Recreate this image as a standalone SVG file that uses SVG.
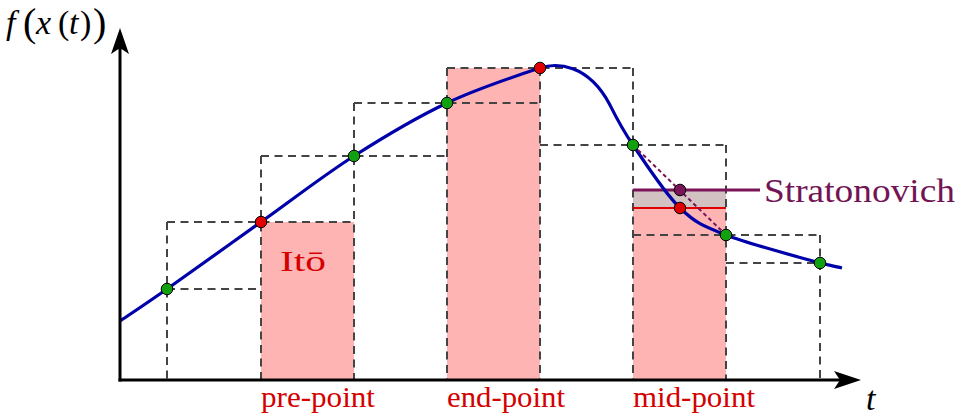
<svg xmlns="http://www.w3.org/2000/svg" width="959" height="418" viewBox="0 0 959 418">
<defs>
<style>
.dash{fill:none;stroke:#444;stroke-width:2;stroke-dasharray:8 5.5}
.pink{fill:#ffb4b4}
.dot{stroke:#000;stroke-width:1}
.g{fill:#10a010}
.r{fill:#e00000}
.p{fill:#7a1458}
.lbl{font-family:"Liberation Serif","DejaVu Serif",serif;font-size:30px;fill:#d40000}
.math{font-family:"Liberation Serif","DejaVu Serif",serif;fill:#000;font-size:34px}
.it{font-style:italic}
</style>
</defs>
<g id="bars">
<rect class="pink" x="261" y="222" width="93" height="158"/>
<rect class="pink" x="447" y="68" width="93" height="312"/>
<rect class="pink" x="633" y="208" width="93" height="172"/>
<rect x="633" y="190" width="93" height="18" fill="#d3c2c2"/>
</g>
<g id="grid">
<path class="dash" d="M167,222V380 M261,156V380 M354,103V380 M447,68V380 M540,68V380 M633,68V380 M726,145V380 M820,235V380"/>
<path class="dash" d="M167,289H261 M167,222H354 M261,156H447 M354,103H540 M447,68H633 M540,145H726 M633,235H820 M726,263H820"/>
</g>
<g id="connectors">
<line x1="633" y1="208" x2="726" y2="208" stroke="#e00000" stroke-width="2"/>
<line x1="633" y1="190" x2="760" y2="190" stroke="#7a1458" stroke-width="3"/>
<path d="M120,321 C127.8,315.7 143.5,305.5 167,289 C190.5,272.5 229.8,244.2 261,222 C292.2,199.8 323,175.8 354,156 C385,136.2 416,117.7 447,103 C478,88.3 521.2,74.2 540,68 C556,62.7 588,63 610,105 C616,117 621.3,127.8 633,145 C644.7,162.2 664.5,193 680,208 C695.5,223 702.7,225.8 726,235 C749.3,244.2 800.7,257.5 820,263 C827.3,264.7 835,266.3 842,268" fill="none" stroke="#0000aa" stroke-width="3.2"/>
<line x1="633" y1="145" x2="726" y2="235" stroke="#7a1458" stroke-width="2" stroke-dasharray="4 3"/>
</g>
<g id="points">
<circle class="dot g" cx="167" cy="289" r="5.8"/>
<circle class="dot g" cx="354" cy="156" r="5.8"/>
<circle class="dot g" cx="447" cy="103" r="5.8"/>
<circle class="dot g" cx="633" cy="145" r="5.8"/>
<circle class="dot g" cx="726" cy="235" r="5.8"/>
<circle class="dot g" cx="820" cy="263" r="5.8"/>
<circle class="dot r" cx="261" cy="222" r="5.8"/>
<circle class="dot r" cx="540" cy="68" r="5.8"/>
<circle class="dot r" cx="680" cy="208" r="5.8"/>
<circle class="dot p" cx="680" cy="190" r="5.8"/>
</g>
<g id="axes">
<line x1="120" y1="381.5" x2="120" y2="45" stroke="#000" stroke-width="3"/>
<line x1="118.5" y1="380" x2="848" y2="380" stroke="#000" stroke-width="3"/>
<path d="M120,28 L129,54 L120,48 L111,54 Z" fill="#000"/>
<path d="M861,380 L834,371 L840,380 L834,389 Z" fill="#000"/>
</g>
<g id="labels">
<text class="lbl" x="280" y="271" font-size="32" textLength="46" lengthAdjust="spacingAndGlyphs">Itō</text>
<text class="lbl" x="261" y="407" textLength="114" lengthAdjust="spacingAndGlyphs">pre-point</text>
<text class="lbl" x="447" y="407" textLength="118" lengthAdjust="spacingAndGlyphs">end-point</text>
<text class="lbl" x="633" y="407" textLength="122" lengthAdjust="spacingAndGlyphs">mid-point</text>
<text x="764" y="202" font-family="Liberation Serif, DejaVu Serif, serif" font-size="33" fill="#731455" textLength="191" lengthAdjust="spacingAndGlyphs">Stratonovich</text>
<text class="math it" x="866" y="410" font-size="36">t</text>
<text class="math" y="34"><tspan class="it" x="6">f</tspan><tspan x="23" font-size="40" dy="2">(</tspan><tspan class="it" x="36" dy="-2">x</tspan><tspan x="58">(</tspan><tspan class="it" x="69">t</tspan><tspan x="80">)</tspan><tspan x="93" font-size="40" dy="2">)</tspan></text>
</g>
</svg>
